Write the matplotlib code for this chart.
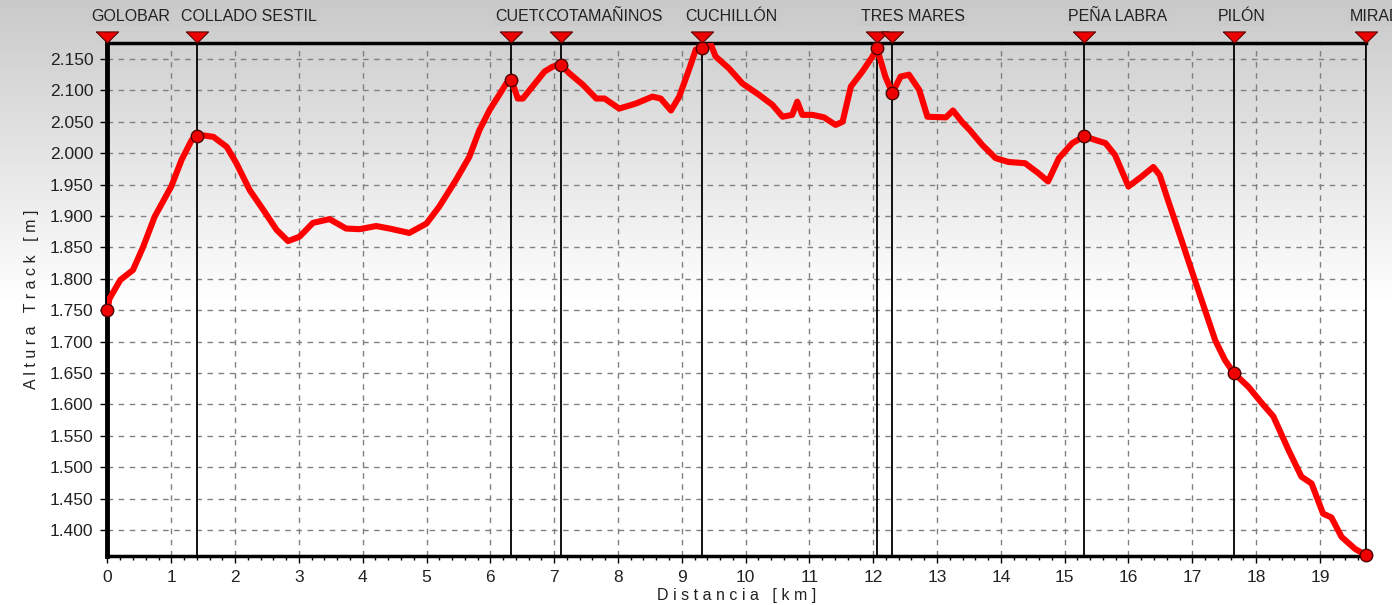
import numpy as np
import matplotlib
matplotlib.use("Agg")
import matplotlib.pyplot as plt
from matplotlib.ticker import MultipleLocator, FuncFormatter

plt.rcParams["font.family"] = ["Liberation Sans", "DejaVu Sans"]

# perfil del track (km, m)
dist = [0, 0.03, 0.2, 0.40, 0.56, 0.74, 1.00, 1.16, 1.32, 1.41, 1.52, 1.66, 1.87, 2.02,
        2.23, 2.44, 2.65, 2.83, 3.01, 3.22, 3.48, 3.74, 3.95, 4.21, 4.42, 4.73, 5.0, 5.20,
        5.46, 5.67, 5.83, 5.99, 6.14, 6.25, 6.33, 6.43, 6.51, 6.66, 6.85, 6.98, 7.11, 7.24,
        7.45, 7.66, 7.79, 8.02, 8.28, 8.54, 8.67, 8.83, 8.96, 9.12, 9.22, 9.31, 9.46, 9.53,
        9.74, 9.95, 10.21, 10.42, 10.58, 10.73, 10.81, 10.89, 11.05, 11.23, 11.41, 11.52,
        11.65, 11.83, 11.99, 12.06, 12.19, 12.30, 12.43, 12.56, 12.72, 12.85, 13.14, 13.25,
        13.39, 13.52, 13.71, 13.92, 14.12, 14.38, 14.59, 14.74, 14.91, 15.12, 15.31, 15.48,
        15.64, 15.79, 16.0, 16.21, 16.39, 16.49, 16.62, 16.83, 17.04, 17.20, 17.36, 17.51,
        17.65, 17.88, 18.09, 18.27, 18.51, 18.71, 18.87, 19.05, 19.18, 19.34, 19.55, 19.72]
alt = [1750, 1768, 1798, 1814, 1851, 1899, 1947, 1989, 2021, 2027, 2028, 2026, 2010, 1984,
       1941, 1910, 1878, 1860, 1867, 1889, 1895, 1880, 1879, 1884, 1880, 1873, 1888, 1915,
       1957, 1994, 2037, 2069, 2093, 2111, 2117, 2087, 2087, 2106, 2130, 2138, 2140, 2127,
       2109, 2087, 2087, 2071, 2079, 2090, 2087, 2068, 2090, 2135, 2165, 2167, 2172, 2154,
       2135, 2111, 2093, 2077, 2058, 2061, 2082, 2061, 2061, 2057, 2045, 2050,
       2106, 2130, 2154, 2167, 2122, 2096, 2122, 2125, 2101, 2058, 2057, 2068,
       2050, 2036, 2013, 1992, 1986, 1984, 1968, 1955, 1992, 2016, 2027, 2021,
       2016, 1997, 1947, 1963, 1978, 1965, 1925, 1862, 1798, 1750, 1702, 1671,
       1650, 1628, 1602, 1581, 1527, 1485, 1474, 1426, 1420, 1389, 1370, 1360]

# waypoints
wp_names = ["GOLOBAR", "COLLADO SESTIL", "CUETO", "COTAMAÑINOS", "CUCHILLÓN",
            "TRES MARES", "", "PEÑA LABRA", "PILÓN", "MIRADOR"]
wp_dist = [0, 1.41, 6.33, 7.11, 9.31, 12.06, 12.30, 15.31, 17.65, 19.72]
wp_alt = [1750, 2027, 2117, 2140, 2167, 2167, 2096, 2027, 1650, 1360]

fig = plt.figure(figsize=(13.92, 6.05), dpi=100)

# fondo degradado gris -> blanco
bg = fig.add_axes([0, 0, 1, 1], zorder=-10)
g = np.linspace(0, 1, 605)
shade = np.clip(0.79 + 0.21 * g / 0.5, 0, 1)[:, None]
img = np.dstack([shade, shade, shade]).repeat(4, axis=1)
bg.imshow(img, aspect="auto", extent=[0, 1, 0, 1], origin="upper")
bg.axis("off")

ax = fig.add_axes([0.0772, 0.081, 0.904, 0.848])
ax.set_facecolor("none")
ax.set_xlim(0, 19.72)

ax.xaxis.set_major_locator(MultipleLocator(1))
ax.xaxis.set_minor_locator(MultipleLocator(0.2))
ax.yaxis.set_major_locator(MultipleLocator(50))
ax.yaxis.set_major_formatter(FuncFormatter(lambda v, p: f"{v/1000:.3f}"))
ax.set_ylim(1358.6, 2175.5)
ax.tick_params(axis="both", which="major", length=5, width=1, labelsize=12.5,
               labelcolor="#222222", pad=5)
ax.tick_params(axis="x", which="minor", length=3, width=1)
ax.grid(True, which="major", color="#808080", linestyle=(0, (4, 4)), linewidth=1)

for s, w in [("left", 3.5), ("bottom", 2.5), ("top", 2.5), ("right", 1.2)]:
    ax.spines[s].set_linewidth(w)
    ax.spines[s].set_color("black")

for x in wp_dist:
    ax.axvline(x, color="black", linewidth=1.3, zorder=2)

ax.plot(dist, alt, color="#ff0000", linewidth=4.4, solid_joinstyle="round", zorder=3)
ax.plot(wp_dist, wp_alt, linestyle="none", marker="o", markersize=9,
        markerfacecolor="#ee0000", markeredgecolor="#500000", markeredgewidth=1,
        zorder=4, clip_on=False)

tri = [(-1, 0.5), (1, 0.5), (0, -0.5), (-1, 0.5)]
ax.plot(wp_dist, [1.0107] * len(wp_dist), linestyle="none", marker=tri, markersize=16,
        markerfacecolor="#ee0000", markeredgecolor="#600000", markeredgewidth=0.8,
        transform=ax.get_xaxis_transform(), clip_on=False, zorder=5)

for name, x in zip(wp_names, wp_dist):
    if not name:
        continue
    ax.annotate(name, xy=(x, 1), xycoords=("data", "axes fraction"),
                xytext=(-11.5, 18.7), textcoords="offset points",
                ha="left", va="center", fontsize=11.5, color="#222222",
                bbox=dict(boxstyle="square,pad=0.1", facecolor="#cacaca", edgecolor="none"),
                annotation_clip=False)

ax.set_xlabel("D i s t a n c i a   [ k m ]", fontsize=11.5, color="#222222", labelpad=2)
ax.set_ylabel("A l t u r a   T r a c k   [ m ]", fontsize=11.5, color="#222222", labelpad=8)

fig.savefig("out.png", dpi=100)
